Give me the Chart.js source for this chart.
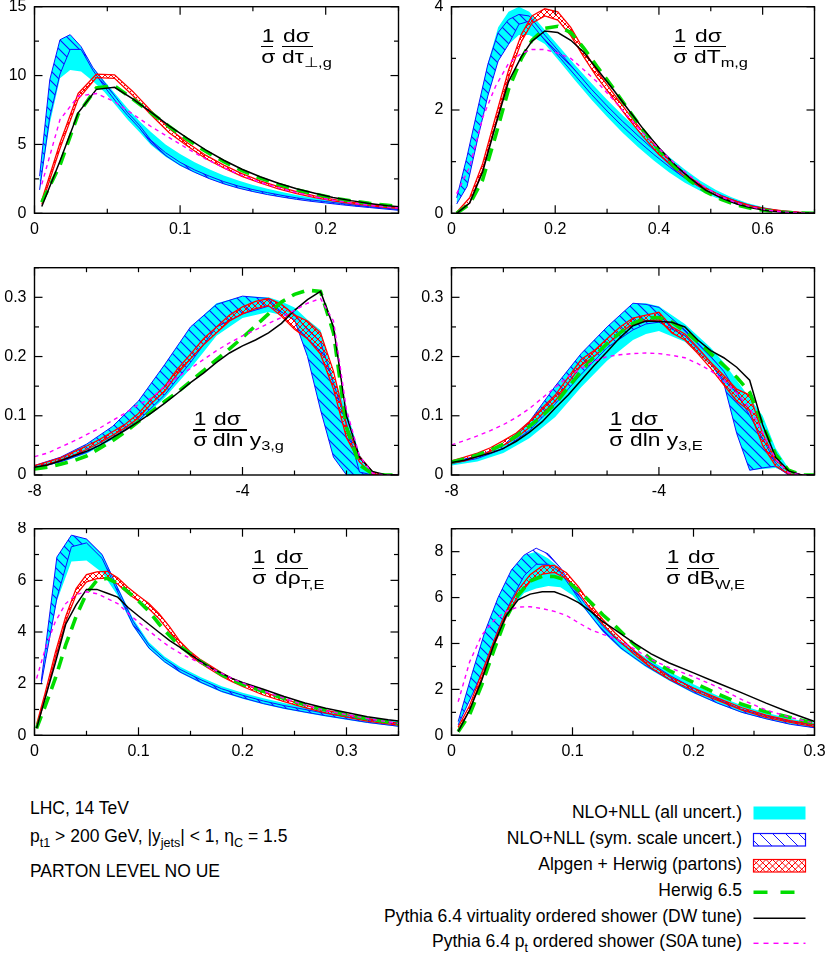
<!DOCTYPE html>
<html><head><meta charset="utf-8">
<script src="https://cdn.jsdelivr.net/npm/chart.js@4.4.1/dist/chart.umd.min.js"></script>
<style>
html,body{margin:0;padding:0;background:#fff}
body{position:relative;width:830px;height:954px;overflow:hidden;font-family:'Liberation Sans',Arial,Helvetica,sans-serif;color:#000}
canvas{position:absolute;display:block}
.t{position:absolute;white-space:nowrap;line-height:1}
.t sub{font-size:0.72em;vertical-align:baseline;position:relative;top:0.32em;line-height:0}
.bar{position:absolute;height:1.4px;background:#000}
</style></head><body>
<script>
// ---------------- DATA ----------------
// Panel 1: 1/sigma dsigma/dtau_perp,g
const p1NloX   = [0.0035,0.0105,0.0175,0.0245,0.032,0.04,0.048,0.056,0.064,0.072,0.08,0.09,0.1,0.11,0.12,0.13,0.14,0.15,0.16,0.17,0.18,0.19,0.2,0.21,0.22,0.23,0.24,0.25];
const p1CyanHi = [2.7,9.7,12.6,12.97,12.1,10.6,9.6,8.6,7.6,6.7,5.9,5.0,4.3,3.7,3.2,2.75,2.38,2.06,1.78,1.54,1.33,1.15,1.0,0.86,0.73,0.61,0.5,0.4];
const p1CyanLo = [1.7,6.5,9.8,10.4,10.3,9.6,8.8,7.8,6.8,5.9,4.95,4.1,3.45,2.95,2.5,2.12,1.82,1.57,1.35,1.17,1.0,0.87,0.75,0.63,0.52,0.41,0.31,0.21];
const p1HatchHi= [2.7,9.7,12.6,12.97,12.1,10.6,9.5,8.4,7.3,6.4,5.3,4.4,3.7,3.15,2.7,2.3,1.98,1.72,1.5,1.3,1.12,0.97,0.85,0.72,0.6,0.48,0.38,0.28];
const p1HatchLo= [1.7,7.0,10.1,11.9,11.9,10.4,9.2,8.1,7.1,6.2,5.1,4.2,3.5,2.98,2.52,2.14,1.83,1.58,1.36,1.18,1.01,0.87,0.75,0.63,0.52,0.42,0.32,0.22];
const p1McX    = [0.005,0.0175,0.03,0.0425,0.055,0.0675,0.08,0.0925,0.105,0.1175,0.13,0.1425,0.155,0.1675,0.18,0.1925,0.205,0.2175,0.23,0.2425,0.255];
const p1AlpHi  = [0.95,5.1,8.7,10.1,10.05,8.85,7.45,6.15,5.12,4.22,3.5,2.88,2.36,1.94,1.57,1.26,1.01,0.81,0.63,0.5,0.39];
const p1AlpLo  = [0.65,4.7,8.3,9.85,9.8,8.55,7.15,5.85,4.88,3.98,3.3,2.68,2.2,1.78,1.43,1.14,0.91,0.71,0.55,0.42,0.31];
const p1Herwig = [0.8,3.5,7.2,9.1,9.25,8.3,7.3,6.3,5.35,4.5,3.75,3.1,2.55,2.1,1.72,1.4,1.12,0.9,0.72,0.58,0.46];
const p1PyDW   = [0.5,3.8,7.3,9.0,9.15,8.3,7.35,6.35,5.45,4.6,3.85,3.2,2.65,2.18,1.78,1.45,1.15,0.92,0.72,0.55,0.42];
const p1PyS0A  = [2.1,6.8,8.5,8.7,8.1,7.2,6.3,5.5,4.7,3.95,3.3,2.75,2.25,1.85,1.5,1.2,0.95,0.75,0.58,0.45,0.35];

// Panel 2: 1/sigma dsigma/dT_m,g
const p2NloX   = [0.01,0.03,0.05,0.07,0.09,0.11,0.13,0.15,0.18,0.21,0.24,0.27,0.3,0.33,0.36,0.39,0.42,0.45,0.48,0.51,0.54,0.57,0.6,0.63,0.66,0.69];
const p2CyanHi = [0.3,1.1,2.0,2.9,3.6,3.9,4.0,3.9,3.55,3.2,2.85,2.52,2.2,1.9,1.62,1.35,1.09,0.85,0.63,0.45,0.31,0.2,0.12,0.065,0.03,0.01];
const p2CyanLo = [0.18,0.52,1.42,2.27,2.95,3.27,3.45,3.45,3.28,2.92,2.55,2.2,1.87,1.56,1.28,1.02,0.79,0.59,0.43,0.3,0.2,0.12,0.07,0.035,0.015,0.004];
const p2HatchHi= [0.3,1.1,2.0,2.88,3.5,3.75,3.85,3.82,3.45,3.1,2.75,2.4,2.08,1.78,1.5,1.23,0.98,0.75,0.55,0.39,0.27,0.17,0.1,0.055,0.025,0.008];
const p2HatchLo= [0.18,0.52,1.42,2.27,2.95,3.27,3.66,3.72,3.35,3.0,2.65,2.3,1.98,1.68,1.4,1.14,0.9,0.68,0.5,0.35,0.24,0.15,0.085,0.045,0.02,0.005];
const p2McX    = [0.01,0.035,0.06,0.085,0.11,0.135,0.155,0.18,0.205,0.23,0.255,0.28,0.31,0.34,0.37,0.4,0.43,0.46,0.49,0.52,0.55,0.58,0.61,0.64,0.67,0.7];
const p2AlpHi  = [0.02,0.3,0.96,1.87,2.77,3.47,3.82,3.96,3.9,3.6,3.17,2.76,2.35,1.95,1.56,1.22,0.93,0.69,0.49,0.34,0.23,0.14,0.085,0.045,0.02,0.005];
const p2AlpLo  = [0,0.2,0.84,1.73,2.63,3.33,3.68,3.82,3.74,3.44,3.03,2.64,2.25,1.85,1.48,1.14,0.87,0.63,0.45,0.3,0.19,0.12,0.065,0.035,0.01,0.001];
const p2Herwig = [0,0.18,0.65,1.5,2.4,3.0,3.35,3.58,3.62,3.5,3.2,2.85,2.45,2.02,1.6,1.22,0.9,0.63,0.42,0.27,0.16,0.09,0.05,0.02,0.005,0];
const p2PyDW   = [0,0.2,0.8,1.7,2.55,3.04,3.33,3.53,3.5,3.35,3.12,2.8,2.42,2.02,1.63,1.27,0.95,0.68,0.45,0.3,0.18,0.1,0.05,0.02,0.005,0];
const p2PyS0A  = [0.38,0.9,1.85,2.46,2.9,3.1,3.17,3.17,3.1,3.0,2.78,2.55,2.22,1.88,1.55,1.25,0.97,0.72,0.5,0.32,0.2,0.12,0.06,0.025,0.008,0];

// Panel 3: 1/sigma dsigma/dln y_3,g
const p3NloX   = [-8,-7.5,-7,-6.5,-6,-5.5,-5,-4.5,-4,-3.5,-3.25,-3,-2.75,-2.5,-2.25,-2,-1.75,-1.5,-1.25,-1];
const p3CyanHi = [0.016,0.03,0.052,0.082,0.125,0.186,0.25,0.29,0.302,0.3,0.293,0.283,0.262,0.245,0.165,0.11,0.035,0,0,0];
const p3CyanLo = [0.012,0.021,0.036,0.06,0.09,0.13,0.18,0.235,0.265,0.275,0.27,0.262,0.2,0.11,0.03,0,0,0,0,0];
const p3HatchHi= [0.016,0.03,0.052,0.082,0.125,0.186,0.25,0.288,0.302,0.298,0.287,0.272,0.245,0.225,0.155,0.087,0.005,0,0,0];
const p3HatchLo= [0.012,0.022,0.038,0.062,0.092,0.135,0.19,0.25,0.272,0.285,0.275,0.262,0.2,0.11,0.03,0,0,0,0,0];
const p3McX    = [-8,-7.75,-7.5,-7.25,-7,-6.75,-6.5,-6.25,-6,-5.75,-5.5,-5.25,-5,-4.75,-4.5,-4.25,-4,-3.75,-3.5,-3.25,-3,-2.75,-2.5,-2.25,-2,-1.75,-1.5,-1.25,-1];
const p3AlpHi  = [0.016,0.022,0.029,0.039,0.049,0.06,0.073,0.086,0.104,0.129,0.149,0.179,0.204,0.23,0.25,0.27,0.284,0.293,0.298,0.288,0.27,0.26,0.24,0.175,0.083,0.032,0.005,0,0];
const p3AlpLo  = [0.012,0.018,0.025,0.033,0.043,0.054,0.067,0.08,0.096,0.121,0.141,0.171,0.196,0.22,0.24,0.26,0.272,0.281,0.286,0.268,0.246,0.23,0.204,0.145,0.063,0.022,0.001,0,0];
const p3Herwig = [0.01,0.013,0.018,0.024,0.032,0.045,0.058,0.073,0.09,0.107,0.124,0.14,0.158,0.176,0.195,0.213,0.232,0.252,0.272,0.292,0.305,0.312,0.31,0.24,0.08,0.017,0.002,0,0];
const p3PyDW   = [0.013,0.017,0.024,0.032,0.04,0.05,0.063,0.076,0.09,0.105,0.121,0.138,0.156,0.172,0.19,0.206,0.218,0.228,0.24,0.256,0.278,0.296,0.31,0.25,0.1,0.03,0.006,0,0];
const p3PyS0A  = [0.031,0.037,0.047,0.057,0.068,0.079,0.092,0.105,0.119,0.13,0.15,0.165,0.18,0.195,0.21,0.223,0.235,0.245,0.256,0.266,0.278,0.29,0.298,0.26,0.11,0.032,0.003,0,0];

// Panel 4: 1/sigma dsigma/dln y_3,E
const p4NloX   = [-8,-7.5,-7,-6.5,-6,-5.5,-5,-4.5,-4.25,-4,-3.5,-3,-2.75,-2.5,-2.25,-2,-1.75,-1.5,-1.25,-1];
const p4CyanHi = [0.022,0.032,0.05,0.09,0.15,0.205,0.25,0.29,0.29,0.285,0.255,0.215,0.19,0.16,0.13,0.1,0.045,0.011,0,0];
const p4CyanLo = [0.016,0.023,0.037,0.062,0.098,0.148,0.193,0.228,0.238,0.243,0.225,0.185,0.155,0.07,0.008,0.01,0.012,0.003,0,0];
const p4HatchHi= [0.022,0.032,0.05,0.09,0.15,0.205,0.25,0.29,0.288,0.283,0.245,0.2,0.175,0.14,0.1,0.062,0.02,0,0,0];
const p4HatchLo= [0.019,0.028,0.044,0.075,0.12,0.17,0.215,0.245,0.255,0.258,0.235,0.19,0.155,0.07,0.008,0.012,0.015,0,0,0];
const p4McX    = [-8,-7.75,-7.5,-7.25,-7,-6.75,-6.5,-6.25,-6,-5.75,-5.5,-5.25,-5,-4.75,-4.5,-4.25,-4,-3.75,-3.5,-3.25,-3,-2.75,-2.5,-2.25,-2,-1.75,-1.5,-1.25,-1];
const p4AlpHi  = [0.024,0.03,0.037,0.046,0.058,0.071,0.09,0.113,0.135,0.165,0.195,0.21,0.23,0.25,0.265,0.27,0.275,0.25,0.238,0.215,0.19,0.168,0.145,0.135,0.07,0.025,0.006,0,0];
const p4AlpLo  = [0.02,0.024,0.031,0.04,0.05,0.063,0.08,0.103,0.125,0.155,0.185,0.2,0.22,0.24,0.255,0.26,0.262,0.24,0.228,0.205,0.18,0.152,0.125,0.108,0.05,0.015,0.002,0,0];
const p4Herwig = [0.022,0.027,0.034,0.042,0.052,0.066,0.082,0.1,0.12,0.148,0.175,0.2,0.222,0.24,0.256,0.265,0.266,0.258,0.243,0.225,0.205,0.185,0.165,0.14,0.085,0.035,0.008,0,0];
const p4PyDW   = [0.021,0.025,0.031,0.037,0.045,0.057,0.072,0.09,0.113,0.135,0.16,0.185,0.208,0.232,0.252,0.26,0.259,0.258,0.25,0.228,0.21,0.198,0.182,0.16,0.085,0.03,0.007,0,0];
const p4PyS0A  = [0.051,0.058,0.066,0.075,0.085,0.097,0.112,0.13,0.148,0.166,0.18,0.192,0.2,0.203,0.205,0.206,0.205,0.202,0.198,0.188,0.176,0.16,0.138,0.113,0.072,0.027,0.004,0,0];

// Panel 5: 1/sigma dsigma/drho_T,E
const p5NloX   = [0.0065,0.0215,0.0355,0.05,0.065,0.08,0.095,0.11,0.125,0.14,0.16,0.18,0.2,0.22,0.24,0.26,0.28,0.3,0.32,0.35];
const p5CyanHi = [2.1,6.9,7.75,7.6,7.0,5.75,4.5,3.6,3.05,2.65,2.25,1.9,1.65,1.43,1.25,1.1,0.95,0.82,0.7,0.55];
const p5CyanLo = [2.0,5.2,6.73,6.77,6.3,5.4,4.2,3.35,2.82,2.42,2.02,1.67,1.42,1.2,1.02,0.87,0.73,0.6,0.48,0.33];
const p5HatchHi= [2.1,6.9,7.75,7.6,7.0,5.7,4.4,3.5,2.95,2.55,2.15,1.8,1.55,1.33,1.15,1.0,0.85,0.72,0.6,0.45];
const p5HatchLo= [2.0,5.3,7.3,7.45,6.85,5.55,4.25,3.38,2.85,2.45,2.05,1.7,1.45,1.23,1.05,0.9,0.76,0.63,0.5,0.35];
const p5McX    = [0.002,0.01,0.02,0.03,0.04,0.05,0.06,0.07,0.08,0.09,0.1,0.11,0.12,0.13,0.14,0.15,0.16,0.17,0.18,0.19,0.2,0.22,0.24,0.26,0.28,0.3,0.32,0.34,0.35];
const p5AlpHi  = [0.42,1.6,3.2,4.6,5.68,6.22,6.33,6.35,6.1,5.72,5.4,5.1,4.7,4.2,3.63,3.23,2.92,2.67,2.42,2.2,2.01,1.68,1.4,1.17,0.97,0.8,0.65,0.52,0.47];
const p5AlpLo  = [0.28,1.4,3.0,4.4,5.44,5.94,6.07,6.09,5.86,5.48,5.2,4.9,4.5,4.0,3.47,3.07,2.78,2.53,2.28,2.08,1.89,1.56,1.3,1.07,0.87,0.7,0.55,0.44,0.39];
const p5Herwig = [0.27,1.1,2.2,3.5,4.6,5.5,6.0,6.08,5.88,5.55,5.2,4.8,4.3,3.85,3.45,3.15,2.85,2.6,2.35,2.15,1.97,1.7,1.42,1.18,0.98,0.8,0.64,0.52,0.46];
const p5PyDW   = [0.27,1.4,2.8,4.3,5.05,5.65,5.65,5.5,5.35,4.95,4.62,4.3,3.98,3.67,3.4,3.12,2.85,2.6,2.4,2.2,2.05,1.78,1.5,1.25,1.05,0.88,0.72,0.6,0.55];
const p5PyS0A  = [2.2,3.3,4.4,5.1,5.45,5.56,5.48,5.3,5.1,4.72,4.38,4.05,3.72,3.42,3.18,2.97,2.8,2.6,2.4,2.2,2.03,1.72,1.43,1.17,0.95,0.8,0.65,0.52,0.46];

// Panel 6: 1/sigma dsigma/dB_W,E
const p6NloX   = [0.0055,0.0165,0.0275,0.0385,0.0495,0.06,0.07,0.08,0.09,0.1,0.11,0.125,0.14,0.16,0.18,0.2,0.22,0.24,0.26,0.28,0.3];
const p6CyanHi = [0.6,2.6,4.5,6.0,7.2,7.85,8.0,7.7,7.25,6.5,5.75,4.85,4.12,3.4,2.78,2.22,1.72,1.3,0.98,0.72,0.55];
const p6CyanLo = [0.45,1.7,3.0,4.4,5.5,6.2,6.4,6.5,6.45,6.1,5.5,4.5,3.75,3.0,2.38,1.83,1.37,0.98,0.7,0.47,0.32];
const p6HatchHi= [0.6,2.6,4.5,6.0,7.2,7.85,8.15,7.9,7.3,6.5,5.75,4.75,4.0,3.3,2.62,2.05,1.57,1.12,0.85,0.6,0.45];
const p6HatchLo= [0.45,1.7,3.0,4.6,5.9,6.95,7.45,7.45,7.1,6.35,5.55,4.55,3.8,3.05,2.42,1.87,1.4,1.0,0.72,0.48,0.33];
const p6McX    = [0.0055,0.015,0.025,0.035,0.045,0.055,0.065,0.075,0.085,0.095,0.105,0.115,0.125,0.135,0.15,0.165,0.18,0.2,0.22,0.24,0.26,0.28,0.3];
const p6AlpHi  = [0.36,1.3,2.72,4.1,5.37,6.33,7.0,7.38,7.4,7.08,6.47,5.7,5.05,4.47,3.73,3.07,2.56,2.06,1.62,1.2,0.88,0.64,0.46];
const p6AlpLo  = [0.24,1.1,2.52,3.9,5.13,6.07,6.7,7.02,7.1,6.82,6.23,5.5,4.85,4.29,3.57,2.93,2.44,1.94,1.52,1.1,0.78,0.56,0.38];
const p6Herwig = [0.16,0.9,2.2,3.7,5.1,6.1,6.72,6.93,6.92,6.75,6.3,5.8,5.25,4.78,4.0,3.3,2.82,2.3,1.8,1.35,1.02,0.78,0.52];
const p6PyDW   = [0.16,1.1,2.4,3.95,5.2,5.9,6.15,6.25,6.25,6.05,5.78,5.4,4.95,4.6,4.05,3.55,3.15,2.72,2.28,1.85,1.4,0.98,0.6];
const p6PyS0A  = [1.46,3.2,4.36,5.0,5.4,5.59,5.6,5.52,5.4,5.22,4.9,4.6,4.4,4.22,3.8,3.3,2.95,2.55,2.1,1.55,1.1,0.78,0.52];

// axis ranges / tick steps
const xRanges = [[0,0.25],[0,0.7],[-8,-1],[-8,-1],[0,0.35],[0,0.3]];
const yRanges = [[0,15],[0,4],[0,0.35],[0,0.35],[0,8],[0,9]];
const xMajor  = [0.1,0.2,4,4,0.1,0.1];
const yMajor  = [5,2,0.1,0.1,2,2];
const xMinor  = [0.05,0.1,1,1,0.05,0.05];
const yMinor  = [2.5,1,0.05,0.05,1,1];

const legendLabels = [
  'NLO+NLL (all uncert.)',
  'NLO+NLL (sym. scale uncert.)',
  'Alpgen + Herwig (partons)',
  'Herwig 6.5',
  'Pythia 6.4 virtuality ordered shower (DW tune)',
  'Pythia 6.4 p<sub>t</sub> ordered shower (S0A tune)'
];
</script>
<script>
Chart.defaults.font.family = "'Liberation Sans', Arial, sans-serif";
Chart.defaults.font.size = 16;
Chart.defaults.color = '#000';

const C_CYAN = '#00ffff', C_BLUE = '#1010ff', C_RED = '#ff0000', C_GREEN = '#00dd00', C_MAG = '#ff00ff';

const panelData = [
  {nloX:p1NloX,cHi:p1CyanHi,cLo:p1CyanLo,hHi:p1HatchHi,hLo:p1HatchLo,mcX:p1McX,aHi:p1AlpHi,aLo:p1AlpLo,hw:p1Herwig,dw:p1PyDW,s0a:p1PyS0A},
  {nloX:p2NloX,cHi:p2CyanHi,cLo:p2CyanLo,hHi:p2HatchHi,hLo:p2HatchLo,mcX:p2McX,aHi:p2AlpHi,aLo:p2AlpLo,hw:p2Herwig,dw:p2PyDW,s0a:p2PyS0A},
  {nloX:p3NloX,cHi:p3CyanHi,cLo:p3CyanLo,hHi:p3HatchHi,hLo:p3HatchLo,mcX:p3McX,aHi:p3AlpHi,aLo:p3AlpLo,hw:p3Herwig,dw:p3PyDW,s0a:p3PyS0A},
  {nloX:p4NloX,cHi:p4CyanHi,cLo:p4CyanLo,hHi:p4HatchHi,hLo:p4HatchLo,mcX:p4McX,aHi:p4AlpHi,aLo:p4AlpLo,hw:p4Herwig,dw:p4PyDW,s0a:p4PyS0A},
  {nloX:p5NloX,cHi:p5CyanHi,cLo:p5CyanLo,hHi:p5HatchHi,hLo:p5HatchLo,mcX:p5McX,aHi:p5AlpHi,aLo:p5AlpLo,hw:p5Herwig,dw:p5PyDW,s0a:p5PyS0A},
  {nloX:p6NloX,cHi:p6CyanHi,cLo:p6CyanLo,hHi:p6HatchHi,hLo:p6HatchLo,mcX:p6McX,aHi:p6AlpHi,aLo:p6AlpLo,hw:p6Herwig,dw:p6PyDW,s0a:p6PyS0A}
];

// layout of frames (page px)
const ROWS = [{top:6.7,bottom:213.3},{top:267.7,bottom:475},{top:528.7,bottom:735.3}];
const COLS = [{left:34.5,right:398.5,off:0},{left:451.5,right:814.5,off:415}];

function pts(xs, ys){ return xs.map((x,i)=>({x:x,y:ys[i]})); }

function hatchCanvas(){
  const c=document.createElement('canvas'); c.width=10; c.height=10;
  const g=c.getContext('2d'); g.strokeStyle=C_BLUE; g.lineWidth=1.1;
  g.beginPath(); g.moveTo(-1,-1); g.lineTo(11,11); g.moveTo(-1,9); g.lineTo(1,11); g.moveTo(9,-1); g.lineTo(11,1); g.stroke();
  return c;
}
function crossCanvas(){
  const c=document.createElement('canvas'); c.width=6; c.height=6;
  const g=c.getContext('2d'); g.strokeStyle=C_RED; g.lineWidth=1;
  g.beginPath(); g.moveTo(0,0); g.lineTo(6,6); g.moveTo(6,0); g.lineTo(0,6); g.stroke();
  return c;
}

const gnuFrame = {
  id:'gnuFrame',
  afterDatasetsDraw(chart, args, o){
    const ctx=chart.ctx, a=chart.chartArea, sx=chart.scales.x, sy=chart.scales.y;
    ctx.save(); ctx.strokeStyle='#000'; ctx.lineWidth=1.2; ctx.setLineDash([]);
    const ln=(x1,y1,x2,y2)=>{ctx.beginPath();ctx.moveTo(x1,y1);ctx.lineTo(x2,y2);ctx.stroke();};
    const isMaj=(v,st)=>Math.abs(v/st-Math.round(v/st))<1e-6;
    for(let i=Math.ceil(sx.min/o.xMinor-1e-9); i*o.xMinor<=sx.max+1e-9; i++){
      const v=i*o.xMinor, px=sx.getPixelForValue(v), L=isMaj(v,o.xMajor)?8:4.5;
      ln(px,a.bottom,px,a.bottom-L); ln(px,a.top,px,a.top+L);
    }
    for(let i=Math.ceil(sy.min/o.yMinor-1e-9); i*o.yMinor<=sy.max+1e-9; i++){
      const v=i*o.yMinor, py=sy.getPixelForValue(v), L=isMaj(v,o.yMajor)?8:4.5;
      ln(a.left,py,a.left+L,py); ln(a.right,py,a.right-L,py);
    }
    ctx.lineWidth=1.4; ctx.strokeRect(a.left,a.top,a.right-a.left,a.bottom-a.top);
    ctx.restore();
  }
};

const fmt = v => String(Math.round(v*1000)/1000);

panelData.forEach((p,idx)=>{
  const row=ROWS[Math.floor(idx/2)], col=COLS[idx%2];
  const cTop=Math.floor(row.top)-6, cH=Math.ceil(row.bottom)+30-cTop;
  const padTop=row.top-cTop, xH=cTop+cH-row.bottom;
  const cW=415, yW=col.left-col.off, padRight=col.off+cW-col.right;
  const cv=document.createElement('canvas');
  cv.width=cW; cv.height=cH; cv.style.left=col.off+'px'; cv.style.top=cTop+'px';
  document.body.appendChild(cv);
  const ctx=cv.getContext('2d');
  const hatch=ctx.createPattern(hatchCanvas(),'repeat');
  const cross=ctx.createPattern(crossCanvas(),'repeat');
  const base={pointRadius:0,showLine:true,tension:0,clip:0};
  const ds=[
    Object.assign({label:'S0A',data:pts(p.mcX,p.s0a),borderColor:C_MAG,borderWidth:1.4,borderDash:[4,4],fill:false},base),
    Object.assign({label:'DW',data:pts(p.mcX,p.dw),borderColor:'#000',borderWidth:1.5,fill:false},base),
    Object.assign({label:'Herwig',data:pts(p.mcX,p.hw),borderColor:C_GREEN,borderWidth:3.6,borderDash:[13,8],fill:false},base),
    Object.assign({label:'AlpHi',data:pts(p.mcX,p.aHi),borderColor:C_RED,borderWidth:1.3,fill:'+1',backgroundColor:cross},base),
    Object.assign({label:'AlpLo',data:pts(p.mcX,p.aLo),borderColor:C_RED,borderWidth:1.3,fill:false},base),
    Object.assign({label:'HatchHi',data:pts(p.nloX,p.hHi),borderColor:C_BLUE,borderWidth:1,fill:'+1',backgroundColor:hatch},base),
    Object.assign({label:'HatchLo',data:pts(p.nloX,p.hLo),borderColor:C_BLUE,borderWidth:1,fill:false},base),
    Object.assign({label:'CyanHi',data:pts(p.nloX,p.cHi),borderColor:'rgba(0,0,0,0)',borderWidth:1,fill:'+1',backgroundColor:C_CYAN},base),
    Object.assign({label:'CyanLo',data:pts(p.nloX,p.cLo),borderColor:'rgba(0,0,0,0)',borderWidth:1,fill:false},base)
  ];
  new Chart(cv,{
    type:'scatter',
    data:{datasets:ds},
    options:{
      responsive:false, animation:false, events:[], devicePixelRatio:1,
      layout:{padding:{left:0,top:padTop,right:padRight,bottom:0}},
      plugins:{legend:{display:false},tooltip:{enabled:false},
        gnuFrame:{xMinor:xMinor[idx],yMinor:yMinor[idx],xMajor:xMajor[idx],yMajor:yMajor[idx]}},
      scales:{
        x:{type:'linear',min:xRanges[idx][0],max:xRanges[idx][1],
           grid:{display:false,drawTicks:false},border:{display:false},
           ticks:{stepSize:xMajor[idx],includeBounds:false,autoSkip:false,maxRotation:0,padding:7,callback:fmt},
           afterFit:s=>{s.height=xH; s.paddingLeft=0; s.paddingRight=0;}},
        y:{type:'linear',min:yRanges[idx][0],max:yRanges[idx][1],
           grid:{display:false,drawTicks:false},border:{display:false},
           ticks:{stepSize:yMajor[idx],includeBounds:false,autoSkip:false,padding:8,callback:fmt},
           afterFit:s=>{s.width=yW; s.paddingTop=0; s.paddingBottom=0;}}
      }
    },
    plugins:[gnuFrame]
  });
});

// ---------- text helpers ----------
function place(html, size, baseline, o){
  const d=document.createElement('div'); d.className='t'; d.innerHTML=html;
  d.style.fontSize=size+'px'; d.style.top=(baseline-0.8465*size)+'px';
  const sx=o.sx||1;
  if(o.center!=null){ d.style.left=o.center+'px'; d.style.transform='translateX(-50%) scaleX('+sx+')'; d.style.transformOrigin='0 0'; }
  else if(o.right!=null){ d.style.right=(830-o.right)+'px'; d.style.textAlign='right'; }
  else { d.style.left=o.left+'px'; d.style.transform='scaleX('+sx+')'; d.style.transformOrigin='0 0'; }
  document.body.appendChild(d); return d;
}
function bar(x,y,w){ const b=document.createElement('div'); b.className='bar'; b.style.left=x+'px'; b.style.top=(y-0.7)+'px'; b.style.width=w+'px'; document.body.appendChild(b); }

// fraction labels 1/σ dσ/d...
const FRACS=[
  {x:261,y:46.7,dx:21,w2:31,den:'dτ<sub>⊥,g</sub>'},
  {x:673,y:46.7,dx:21,w2:32,den:'dT<sub>m,g</sub>'},
  {x:193,y:430,dx:20,w2:34,den:'dln y<sub>3,g</sub>'},
  {x:609,y:430,dx:21,w2:33,den:'dln y<sub>3,E</sub>'},
  {x:252,y:568.3,dx:23,w2:33,den:'dρ<sub>T,E</sub>'},
  {x:666,y:568.3,dx:21,w2:32,den:'dB<sub>W,E</sub>'}
];
const FS=19, SX=1.2;
FRACS.forEach(f=>{
  place('1',FS,f.y-5,{center:f.x+6,sx:SX});
  bar(f.x,f.y,12);
  place('σ',FS,f.y+16,{center:f.x+6,sx:SX});
  place('dσ',FS,f.y-5,{left:f.x+f.dx+1,sx:SX});
  bar(f.x+f.dx,f.y,f.w2);
  place(f.den,FS,f.y+16,{left:f.x+f.dx,sx:SX});
});

// annotations
place('LHC, 14 TeV',17.5,815,{left:30});
place('p<sub>t1</sub> &gt; 200 GeV, |y<sub>jets</sub>| &lt; 1, η<sub>C</sub> = 1.5',17.5,843.3,{left:30});
place('PARTON LEVEL NO UE',17.5,878.3,{left:30});

// legend
const LB=[819.3,845,871,896.7,923.3,948.3];
legendLabels.forEach((s,i)=>place(s,17.5,LB[i],{right:742}));
(function(){
  const cv=document.createElement('canvas'); cv.width=70; cv.height=160; cv.style.left='745px'; cv.style.top='794px';
  document.body.appendChild(cv); const g=cv.getContext('2d');
  const ox=745, oy=794, x0=753.5-ox, x1=805.5-ox;
  g.fillStyle=C_CYAN; g.fillRect(x0,806.5-oy,x1-x0,13);
  let y0=833.5-oy; g.save(); g.beginPath(); g.rect(x0,y0,x1-x0,12.5); g.clip();
  g.strokeStyle=C_BLUE; g.lineWidth=1; g.beginPath();
  for(let k=-20;k<70;k+=13){ g.moveTo(x0+k,y0); g.lineTo(x0+k+13,y0+13); } g.stroke(); g.restore();
  g.strokeStyle=C_BLUE; g.lineWidth=1.2; g.strokeRect(x0,y0,x1-x0,12.5);
  y0=859.5-oy; g.save(); g.beginPath(); g.rect(x0,y0,x1-x0,12.5); g.clip();
  g.strokeStyle=C_RED; g.lineWidth=1; g.beginPath();
  for(let k=-20;k<70;k+=6.5){ g.moveTo(x0+k,y0); g.lineTo(x0+k+13,y0+13); g.moveTo(x0+k+13,y0); g.lineTo(x0+k,y0+13);} g.stroke(); g.restore();
  g.strokeStyle=C_RED; g.lineWidth=1.2; g.strokeRect(x0,y0,x1-x0,12.5);
  g.strokeStyle=C_GREEN; g.lineWidth=3.6; g.setLineDash([14,13]); g.beginPath(); g.moveTo(x0,892.3-oy); g.lineTo(x1,892.3-oy); g.stroke();
  g.setLineDash([]); g.strokeStyle='#000'; g.lineWidth=1.5; g.beginPath(); g.moveTo(x0,918.3-oy); g.lineTo(x1,918.3-oy); g.stroke();
  g.strokeStyle=C_MAG; g.lineWidth=1.4; g.setLineDash([5,5]); g.beginPath(); g.moveTo(x0,943.3-oy); g.lineTo(x1,943.3-oy); g.stroke();
})();
</script>
</body></html>
